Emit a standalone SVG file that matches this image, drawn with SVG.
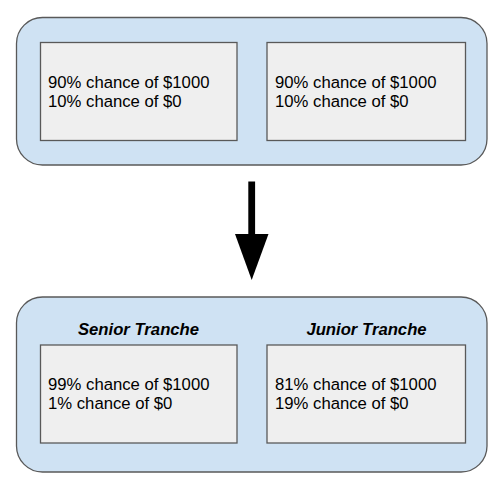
<svg xmlns="http://www.w3.org/2000/svg" width="501" height="487" viewBox="0 0 501 487">
<style>
.outer{fill:#cfe2f3;stroke:#595959;stroke-width:1.3}
.inner{fill:#efefef;stroke:#595959;stroke-width:1.3}
.t{font-family:"Liberation Sans",Arial,sans-serif;font-size:16.7px;fill:#000}
.h{font-family:"Liberation Sans",Arial,sans-serif;font-size:16.7px;font-weight:bold;font-style:italic;fill:#000;text-anchor:middle}
</style>
<rect width="501" height="487" fill="#fff"/>
<g id="top-group">
<rect class="outer" x="16.5" y="17.5" width="470.5" height="147.5" rx="26"/>
</g>
<g id="top-left">
<rect class="inner" x="40.5" y="42.5" width="196.5" height="98"/>
<text class="t" x="48" y="88">90% chance of $1000</text>
<text class="t" x="48" y="107">10% chance of $0</text>
</g>
<g id="top-right">
<rect class="inner" x="267" y="42.5" width="198.5" height="98"/>
<text class="t" x="275" y="88">90% chance of $1000</text>
<text class="t" x="275" y="107">10% chance of $0</text>
</g>
<g id="bottom-group">
<rect class="outer" x="16.5" y="297" width="470.5" height="175" rx="26"/>
</g>
<g id="senior">
<text class="h" x="138.5" y="335">Senior Tranche</text>
<rect class="inner" x="40.5" y="345" width="196.5" height="98"/>
<text class="t" x="48" y="390">99% chance of $1000</text>
<text class="t" x="48" y="409">1% chance of $0</text>
</g>
<g id="junior">
<text class="h" x="366.5" y="335">Junior Tranche</text>
<rect class="inner" x="267" y="345" width="198.5" height="98"/>
<text class="t" x="275" y="390">81% chance of $1000</text>
<text class="t" x="275" y="409">19% chance of $0</text>
</g>
<g id="connectors">
<rect x="248.3" y="181.5" width="6.8" height="54" fill="#000"/>
<polygon points="235,234 268.5,234 251.7,280" fill="#000"/>
</g>
</svg>
